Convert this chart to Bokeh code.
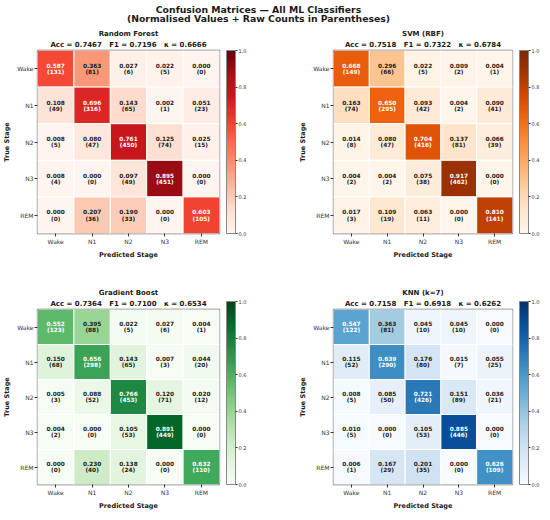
from bokeh.plotting import figure
from bokeh.models import (ColumnDataSource, LinearColorMapper, ColorBar, FixedTicker,
                          PrintfTickFormatter, Title, Range1d, FactorRange)
from bokeh.layouts import column, row
from bokeh.palettes import Reds256, Oranges256, Greens256, Blues256
from bokeh.embed import file_html
from bokeh.resources import INLINE
from bokeh.core.properties import value

stages = ["Wake", "N1", "N2", "N3", "REM"]

model_names = ["Random Forest", "SVM (RBF)", "Gradient Boost", "KNN (k=7)"]
acc_scores = [0.7467, 0.7518, 0.7364, 0.7158]
f1_scores = [0.7196, 0.7322, 0.7100, 0.6918]
kappa_scores = [0.6666, 0.6784, 0.6534, 0.6262]

rf_norm = [[0.587, 0.363, 0.027, 0.022, 0.000],
           [0.108, 0.696, 0.143, 0.002, 0.051],
           [0.008, 0.080, 0.761, 0.125, 0.025],
           [0.008, 0.000, 0.097, 0.895, 0.000],
           [0.000, 0.207, 0.190, 0.000, 0.603]]
rf_counts = [[131, 81, 6, 5, 0],
             [49, 316, 65, 1, 23],
             [5, 47, 450, 74, 15],
             [4, 0, 49, 451, 0],
             [0, 36, 33, 0, 105]]
svm_norm = [[0.668, 0.296, 0.022, 0.009, 0.004],
            [0.163, 0.650, 0.093, 0.004, 0.090],
            [0.014, 0.080, 0.704, 0.137, 0.066],
            [0.004, 0.004, 0.075, 0.917, 0.000],
            [0.017, 0.109, 0.063, 0.000, 0.810]]
svm_counts = [[149, 66, 5, 2, 1],
              [74, 295, 42, 2, 41],
              [8, 47, 416, 81, 39],
              [2, 2, 38, 462, 0],
              [3, 19, 11, 0, 141]]
gb_norm = [[0.552, 0.395, 0.022, 0.027, 0.004],
           [0.150, 0.656, 0.143, 0.007, 0.044],
           [0.005, 0.088, 0.766, 0.120, 0.020],
           [0.004, 0.000, 0.105, 0.891, 0.000],
           [0.000, 0.230, 0.138, 0.000, 0.632]]
gb_counts = [[123, 88, 5, 6, 1],
             [68, 298, 65, 3, 20],
             [3, 52, 453, 71, 12],
             [2, 0, 53, 449, 0],
             [0, 40, 24, 0, 110]]
knn_norm = [[0.547, 0.363, 0.045, 0.045, 0.000],
            [0.115, 0.639, 0.176, 0.015, 0.055],
            [0.008, 0.085, 0.721, 0.151, 0.036],
            [0.010, 0.000, 0.105, 0.885, 0.000],
            [0.006, 0.167, 0.201, 0.000, 0.626]]
knn_counts = [[122, 81, 10, 10, 0],
              [52, 290, 80, 7, 25],
              [5, 50, 426, 89, 21],
              [5, 0, 53, 446, 0],
              [1, 29, 35, 0, 109]]

cbar_ticks = [0.0, 0.2, 0.4, 0.6, 0.8, 1.0]

FONT = "DejaVu Sans"
DARK = "#1a1a1a"
FRAME = 183
SP = "\u00a0\u00a0\u00a0"


def panel(idx, norm, counts, palette, width, height, bl, bt, bb):
    xs, ys, vals, t1, t2, tc = [], [], [], [], [], []
    for i, true_stage in enumerate(stages):
        for j, pred_stage in enumerate(stages):
            v = norm[i][j]
            xs.append(pred_stage)
            ys.append(true_stage)
            vals.append(v)
            t1.append(f"{v:.3f}")
            t2.append(f"({counts[i][j]})")
            tc.append("white" if v > 0.5 else DARK)
    src = ColumnDataSource(dict(x=xs, y=ys, v=vals, t1=t1, t2=t2, tc=tc))
    mapper = LinearColorMapper(palette=list(reversed(palette)), low=0, high=1)

    p = figure(width=width, height=height,
               x_range=FactorRange(*stages), y_range=FactorRange(*stages[::-1]),
               output_backend="svg", toolbar_location=None, title=None,
               min_border_left=bl, min_border_right=width - bl - FRAME,
               min_border_top=bt, min_border_bottom=bb,
               outline_line_color="#666666", outline_line_width=1.3)
    p.rect(x="x", y="y", width=1, height=1, source=src,
           fill_color={"field": "v", "transform": mapper},
           line_color="white", line_width=1)
    p.text(x="x", y="y", text="t1", source=src, text_color="tc",
           text_font=value(FONT), text_font_style="bold", text_font_size="5.8px",
           text_align="center", text_baseline="middle", y_offset=-3.4)
    p.text(x="x", y="y", text="t2", source=src, text_color="tc",
           text_font=value(FONT), text_font_style="bold", text_font_size="5.8px",
           text_align="center", text_baseline="middle", y_offset=3.4)

    p.grid.visible = False
    for ax in (p.xaxis[0], p.yaxis[0]):
        ax.axis_line_color = None
        ax.major_tick_line_color = "#333333"
        ax.major_tick_out = 3
        ax.major_tick_in = 0
        ax.minor_tick_line_color = None
        ax.major_label_text_font = FONT
        ax.major_label_text_font_size = "6px"
        ax.major_label_text_color = "#333333"
        ax.major_label_standoff = 1
        ax.axis_label_text_font = FONT
        ax.axis_label_text_font_size = "6.5px"
        ax.axis_label_text_font_style = "bold"
        ax.axis_label_text_color = DARK
        ax.axis_label_standoff = 3
    p.xaxis.axis_label = "Predicted Stage"
    p.yaxis.axis_label = "True Stage"

    cb = ColorBar(color_mapper=mapper, ticker=FixedTicker(ticks=cbar_ticks),
                  formatter=PrintfTickFormatter(format="%.1f"),
                  width=9, height=FRAME, margin=0, padding=0, location=(7, 0),
                  major_label_text_font=FONT, major_label_text_font_size="5px",
                  major_label_text_color="#333333",
                  major_tick_out=2, major_tick_in=0, major_tick_line_color="#333333",
                  minor_tick_line_color=None, bar_line_color="#888888",
                  border_line_color=None, background_fill_alpha=0, label_standoff=1)
    p.add_layout(cb, "right")

    sub = (f"Acc = {acc_scores[idx]:.4f}{SP}F1 = {f1_scores[idx]:.4f}"
           f"{SP}\u03ba = {kappa_scores[idx]:.4f}")
    p.add_layout(Title(text=sub, align="center", text_font=FONT, text_font_style="bold",
                       text_font_size="7px", text_color=DARK, standoff=3), "above")
    p.add_layout(Title(text=model_names[idx], align="center", text_font=FONT,
                       text_font_style="bold", text_font_size="7px", text_color=DARK,
                       standoff=0), "above")
    return p


tf = figure(width=542, height=26, x_range=Range1d(0, 1), y_range=Range1d(0, 1),
            output_backend="svg", toolbar_location=None, min_border=0,
            outline_line_color=None)
tf.axis.visible = False
tf.grid.visible = False
tf.text(x=[0.476, 0.476], y=[0.673, 0.29],
        text=["Confusion Matrices \u2014 All ML Classifiers",
              "(Normalised Values + Raw Counts in Parentheses)"],
        text_font=value(FONT), text_font_style="bold", text_font_size="9.3px",
        text_color=DARK, text_align="center", text_baseline="middle")

p1 = panel(0, rf_norm, rf_counts, Reds256, 290, 260, 36, 24, 53)
p2 = panel(1, svm_norm, svm_counts, Oranges256, 252, 260, 43, 24, 53)
p3 = panel(2, gb_norm, gb_counts, Greens256, 290, 226, 36, 22, 21)
p4 = panel(3, knn_norm, knn_counts, Blues256, 252, 226, 43, 22, 21)

layout = column(tf, row(p1, p2), row(p3, p4))

open("out.html", "w").write(file_html(layout, INLINE))
